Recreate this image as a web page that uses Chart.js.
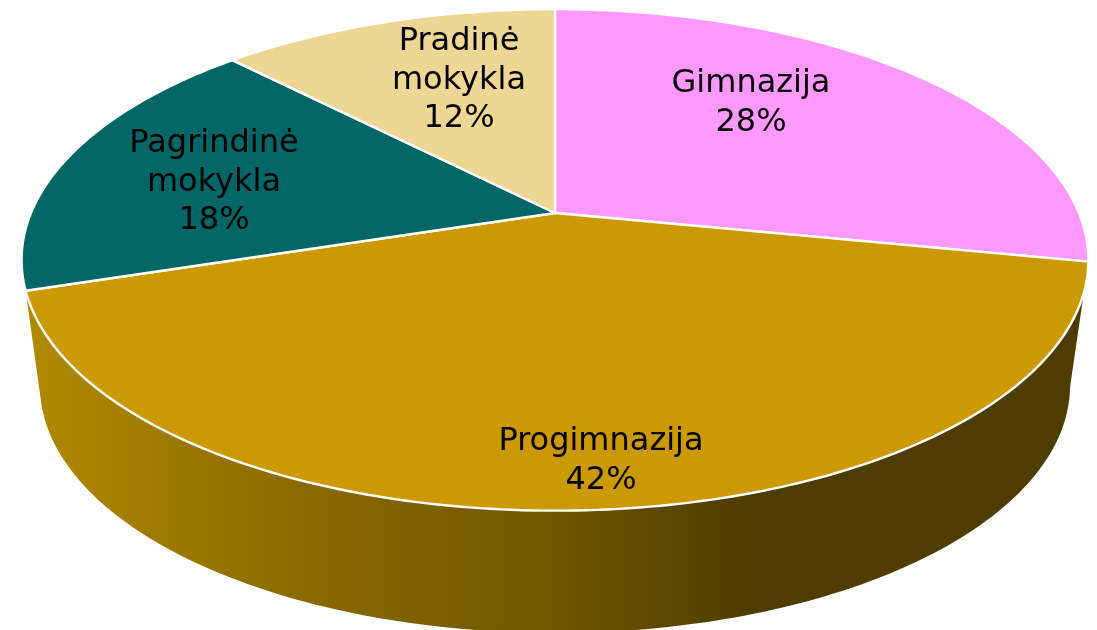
<!DOCTYPE html>
<html>
<head>
<meta charset="utf-8">
<title>Mokyklų tipai</title>
<script src="https://cdn.jsdelivr.net/npm/chart.js@4"></script>
<style>
  html, body { margin: 0; background: #fff; }
  #chart { display: block; }
</style>
</head>
<body>
<canvas id="chart" width="1097" height="630"></canvas>
<script>
const categories = ["Gimnazija", "Progimnazija", "Pagrindinė mokykla", "Pradinė mokykla"];
const shares = [28.1, 42.0, 17.6, 12.3];
const sliceColors = ["#ff99ff", "#cc9900", "#006666", "#eed694"];

// perspective of the tilted disc: top face, then the smaller bottom face
const topFace = { cy: 213, rx: 524, ry: 242, k: -0.187 };
const bottomFace = { cy: 339, rx: 506, ry: 239, k: -0.187 };
const labelCenters = [[751, 84], [601, 442], [214, 144], [459, 42]];

function project(face, cx, angle) {
  const X = Math.cos(angle);
  const Y = Math.sin(angle);
  const w = 1 + face.k * Y;
  return [cx + (face.rx * X) / w, face.cy + (face.ry * Y) / w];
}

function traceArc(ctx, face, cx, from, to) {
  const steps = Math.max(2, Math.ceil(Math.abs(to - from) * 60));
  for (let i = 0; i <= steps; i++) {
    const p = project(face, cx, from + ((to - from) * i) / steps);
    ctx.lineTo(p[0], p[1]);
  }
}

// Chart.js lays out the slice angles, this plugin paints them on the tilted disc
const tiltedPie = {
  id: "tiltedPie",
  beforeDatasetDraw(chart, args) {
    const ctx = chart.ctx;
    const arcs = args.meta.data;
    ctx.save();
    ctx.lineJoin = "round";

    // --- Side wall, only for slices fully on the front half ---
    arcs.forEach((arc) => {
      if (Math.sin(arc.startAngle) <= 0 || Math.sin(arc.endAngle) <= 0) return;
      const grad = ctx.createLinearGradient(38, 0, 750, 0);
      grad.addColorStop(0, "#b08800");
      grad.addColorStop(0.37, "#8a6a00");
      grad.addColorStop(0.72, "#705600");
      grad.addColorStop(1, "#4f3c00");
      ctx.beginPath();
      traceArc(ctx, topFace, arc.x, arc.startAngle, arc.endAngle);
      traceArc(ctx, bottomFace, arc.x, arc.endAngle + 0.07, arc.startAngle);
      ctx.closePath();
      ctx.fillStyle = grad;
      ctx.fill();
    });

    // --- Top face ---
    arcs.forEach((arc, i) => {
      ctx.beginPath();
      ctx.moveTo(arc.x, topFace.cy);
      traceArc(ctx, topFace, arc.x, arc.startAngle, arc.endAngle);
      ctx.closePath();
      ctx.fillStyle = sliceColors[i];
      ctx.fill();
      ctx.strokeStyle = "#ffffff";
      ctx.lineWidth = 2.4;
      ctx.stroke();
    });

    // --- Labels ---
    ctx.fillStyle = "#000000";
    ctx.font = '32px "DejaVu Sans"';
    ctx.textAlign = "center";
    ctx.textBaseline = "middle";
    categories.forEach((name, i) => {
      const lines = name.split(" ").concat(Math.round(shares[i]) + "%");
      lines.forEach((line, n) => {
        ctx.fillText(line, labelCenters[i][0], labelCenters[i][1] + n * 38.5);
      });
    });

    ctx.restore();
    return false;
  },
};

new Chart(document.getElementById("chart"), {
  type: "pie",
  data: {
    labels: categories,
    datasets: [{ data: shares, backgroundColor: sliceColors, borderColor: "#ffffff", borderWidth: 2 }],
  },
  options: {
    responsive: false,
    animation: false,
    layout: { padding: { left: 13 } },
    plugins: { legend: { display: false }, tooltip: { enabled: false } },
  },
  plugins: [tiltedPie],
});
</script>
</body>
</html>
